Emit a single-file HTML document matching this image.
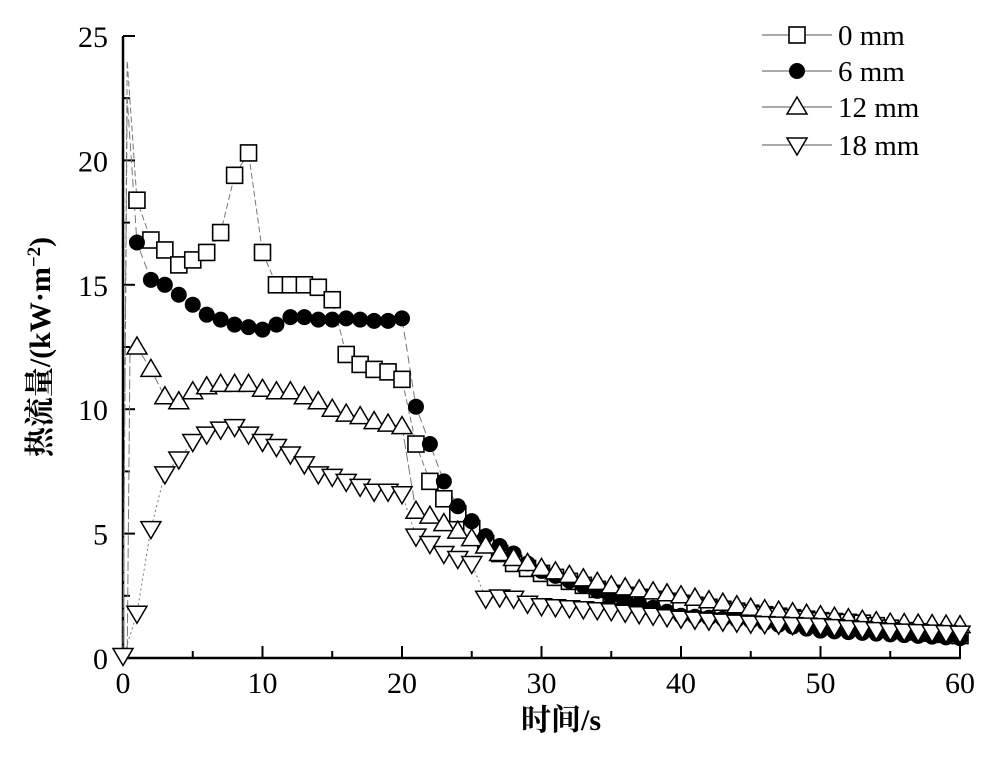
<!DOCTYPE html>
<html><head><meta charset="utf-8"><style>
body{margin:0;background:#fff;width:1000px;height:753px;overflow:hidden}
text{font-family:"Liberation Serif","Noto Serif CJK SC",serif;fill:#000}
</style></head><body>
<svg id="s" width="1000" height="753" xmlns="http://www.w3.org/2000/svg"></svg>
<script>
const S=document.getElementById('s');
const X=t=>123+t*(837/60), Y=v=>658-v*(622/25);
let h='';
h+='<line x1="123" y1="36" x2="123" y2="658" stroke="#000" stroke-width="2.5"/>';
h+='<line x1="122" y1="658" x2="961" y2="658" stroke="#000" stroke-width="2.5"/>';
for(let v=0;v<=25;v+=2.5){const y=Y(v);h+=`<line x1="123" y1="${y}" x2="${v%5==0?135:130}" y2="${y}" stroke="#000" stroke-width="2"/>`;
 if(v%5==0)h+=`<text x="108" y="${y+11}" font-size="30" text-anchor="end">${v}</text>`;}
for(let t=0;t<=60;t+=5){const x=X(t);h+=`<line x1="${x}" y1="658" x2="${x}" y2="${t%10==0?646:651}" stroke="#000" stroke-width="2"/>`;
 if(t%10==0)h+=`<text x="${x}" y="693" font-size="30" text-anchor="middle">${t}</text>`;}
h+='<text x="561" y="730" font-size="30" font-weight="bold" text-anchor="middle">时间/s</text>';
h+='<text transform="translate(50,347) rotate(-90)" font-size="30" font-weight="bold" text-anchor="middle">热流量/(kW·m<tspan dy="-10" font-size="19">−2</tspan><tspan dy="10">)</tspan></text>';
function interp(pts){const o=[];for(let t=0;t<=60;t++){let v;for(let i=0;i<pts.length-1;i++){if(t>=pts[i][0]&&t<=pts[i+1][0]){const a=pts[i],b=pts[i+1];v=a[1]+(b[1]-a[1])*(t-a[0])/(b[0]-a[0]);break;}}o.push(v);}return o;}
const base=(arr,tail)=>interp(arr.map((v,i)=>[i,v]).concat(tail));
const s0=base([0.2,18.4,16.8,16.4,15.8,16.0,16.3,17.1,19.4,20.3,16.3,15.0,15.0,15.0,14.9,14.4,12.2,11.8,11.6,11.5,11.2,8.6,7.1,6.4,5.8,5.2,4.6,4.2,3.8,3.6,3.4],[[35,2.6],[40,2.2],[45,1.8],[50,1.5],[53,1.4],[56,1.1],[60,0.9]]);
const s6=base([0.2,16.7,15.2,15.0,14.6,14.2,13.8,13.6,13.4,13.3,13.2,13.4,13.7,13.7,13.6,13.6,13.65,13.6,13.55,13.55,13.65,10.1,8.6,7.1,6.1,5.5,4.9,4.5,4.2,3.8,3.5],[[35,2.5],[40,1.7],[45,1.5],[50,1.1],[55,0.95],[60,0.8]]);
const s12=base([0,12.5,11.6,10.5,10.3,10.7,10.9,11.0,11.0,11.0,10.8,10.7,10.7,10.5,10.3,10.0,9.8,9.7,9.5,9.4,9.3,5.9,5.7,5.4,5.1,4.8,4.5,4.2,4.0,3.8,3.6],[[35,2.9],[40,2.5],[45,2.0],[50,1.7],[55,1.4],[60,1.3]]);
const s18=base([0,1.8,5.2,7.4,8.0,8.7,9.0,9.2,9.3,9.0,8.7,8.5,8.2,7.8,7.4,7.3,7.1,6.9,6.7,6.7,6.6,4.9,4.6,4.2,4.0,3.8,2.4,2.45,2.4,2.2,2.1],[[35,1.9],[40,1.6],[45,1.4],[50,1.3],[55,1.1],[60,1.0]]);
function line(d,dash,extra){let p=d.map((v,t)=>`${X(t)},${Y(v)}`);if(extra)p.splice(1,0,extra);return `<polyline points="${p.join(' ')}" fill="none" stroke="#777" stroke-width="1" stroke-dasharray="${dash}"/>`;}
function mk(type,x,y){
 if(type==0)return `<rect x="${x-8}" y="${y-8}" width="16" height="16" fill="#fff" stroke="#000" stroke-width="1.6"/>`;
 if(type==1)return `<circle cx="${x}" cy="${y}" r="8" fill="#000"/>`;
 if(type==2)return `<polygon points="${x},${y-10} ${x-10},${y+7} ${x+10},${y+7}" fill="#fff" stroke="#000" stroke-width="1.5"/>`;
 return `<polygon points="${x},${y+10} ${x-10},${y-7} ${x+10},${y-7}" fill="#fff" stroke="#000" stroke-width="1.5"/>`;}
h+=line(s0,'6,3',`${X(0.3)},${Y(24)}`);h+=line(s6,'8,4',`${X(0.3)},${Y(22.5)}`);h+=line(s12,'10,3',`${X(0.3)},${Y(0)} ${X(0.5)},${Y(12.2)}`);h+=line(s18,'2,3');
[s0,s6,s12,s18].forEach((d,k)=>{for(let t=1;t<=60;t++)h+=mk(k,X(t),Y(d[t]));});
h+=mk(3,X(0),Y(0.1));
const L=['0 mm','6 mm','12 mm','18 mm'],LY=[35,71,107,145];
L.forEach((s,i)=>{h+=`<line x1="762" y1="${LY[i]}" x2="832" y2="${LY[i]}" stroke="#555" stroke-width="1"/>`+mk(i,797,LY[i])+`<text x="838" y="${LY[i]+10}" font-size="29">${s}</text>`;});
S.innerHTML=h;
</script>
</body></html>
